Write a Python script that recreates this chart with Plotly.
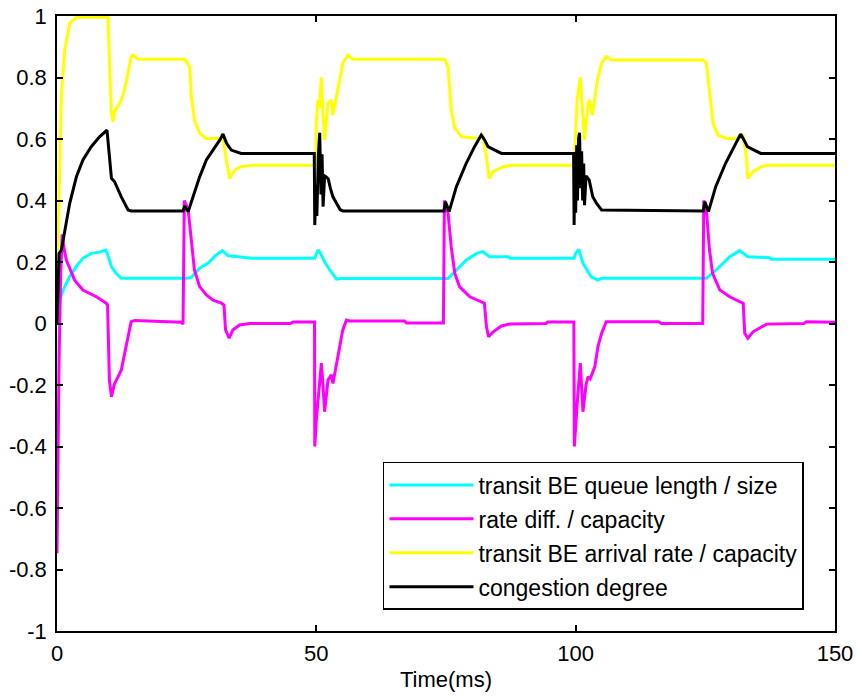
import plotly.graph_objects as go

# ---------------- data ----------------
queue_t = [0, 0.5, 1.2, 2.4, 3.7, 5.0, 6.6, 8.2, 9.4, 9.8, 10.5, 11.4, 12.4, 25.0, 25.9, 27.5, 29.1,
           30.7, 31.9, 33.0, 34.6, 37.5, 49.7,
           50.0, 50.3, 50.8, 51.6, 52.6, 53.9, 54.8, 75.4, 77.0, 78.9, 80.9, 82.1, 83.4, 87.0, 87.4, 99.7,
           100.0, 100.6, 101.4, 103.0, 104.3, 105.0, 125.2, 127.1, 129.7, 131.6, 133.2, 137.4, 137.8, 150.0]
queue_y = [0.033, 0.076, 0.109, 0.152, 0.185, 0.212, 0.228, 0.232, 0.239, 0.223, 0.185, 0.163, 0.147, 0.147,
           0.150, 0.180, 0.196, 0.223, 0.237, 0.220, 0.218, 0.212, 0.212,
           0.225, 0.239, 0.228, 0.201, 0.174, 0.144, 0.146, 0.146, 0.174, 0.206, 0.228, 0.234, 0.217, 0.217,
           0.212, 0.212,
           0.228, 0.241, 0.196, 0.152, 0.141, 0.147, 0.147, 0.174, 0.217, 0.237, 0.217, 0.214, 0.209, 0.209]

ratediff_t = [0, 0.2, 0.4, 0.7, 1.0, 1.3, 1.8, 3.4, 5.0, 7.6, 9.5, 9.75, 9.9, 10.1, 10.5, 11.1, 11.8, 12.4,
              13.05, 13.7, 14.3, 15.0, 24.0, 24.3, 24.55, 25.3, 25.9, 26.5, 27.5, 28.8, 30.1, 31.7, 32.2,
              32.5, 33.2, 33.9, 35.2, 37.2, 45.0, 45.5, 49.65,
              49.7, 50.0, 50.3, 50.97, 51.3, 51.6, 52.25, 52.9, 53.2, 53.9, 54.5, 55.1, 55.8, 56.4, 67.0,
              67.4, 74.5, 74.7, 75.4, 76.0, 76.7, 77.6, 79.6, 81.8, 82.4, 82.8, 83.2, 84.1, 85.7, 87.3,
              94.3, 94.6, 99.65,
              99.75, 100.0, 100.3, 100.9, 101.4, 102.0, 102.4, 102.8, 103.2, 103.7, 104.3, 105.0, 105.9,
              116.0, 116.5, 124.5, 124.7, 125.2, 125.8, 126.4, 127.8, 129.7, 131.6, 132.3, 132.6, 133.2,
              134.2, 136.8, 144.0, 144.5, 150.0]
ratediff_y = [-0.747, -0.41, -0.12, 0.15, 0.29, 0.25, 0.206, 0.141, 0.109, 0.087, 0.066, 0.06, -0.075,
              -0.184, -0.238, -0.195, -0.173, -0.151, -0.097, -0.043, 0.006, 0.01, 0.004, -0.002, 0.40,
              0.369, 0.26, 0.174, 0.12, 0.093, 0.076, 0.066, 0.06, -0.021, -0.048, -0.021, -0.005, 0.0,
              0.0, 0.005, 0.005,
              -0.40, -0.314, -0.26, -0.129, -0.205, -0.287, -0.184, -0.167, -0.195, -0.129, -0.07, -0.021,
              0.011, 0.008, 0.008, 0.002, 0.002, 0.40, 0.358, 0.25, 0.163, 0.12, 0.087, 0.071, 0.066,
              -0.01, -0.043, -0.027, -0.008, -0.002, 0.0, 0.005, 0.005,
              -0.40, -0.314, -0.26, -0.129, -0.287, -0.20, -0.173, -0.18, -0.16, -0.14, -0.075, -0.032,
              0.006, 0.006, 0.0, 0.0, 0.40, 0.37, 0.239, 0.163, 0.109, 0.087, 0.071, 0.066, -0.032,
              -0.048, -0.027, -0.002, 0.0, 0.006, 0.004]

arrival_t = [0, 0.52, 0.84, 1.48, 2.45, 3.74, 9.84, 10.16, 10.5, 10.8, 11.1, 12.1, 12.86, 13.7, 14.3,
             14.65, 15.6, 24.6, 25.6, 25.9, 26.5, 27.5, 28.8, 31.7, 32.0, 32.66, 33.3, 34.26, 35.5, 37.5,
             49.6,
             49.9, 50.0, 50.3, 50.6, 50.97, 51.3, 51.6, 52.25, 52.9, 53.2, 53.9, 54.5, 55.1, 56.1, 57.07,
             74.7, 75.4, 76.0, 76.7, 78.0, 81.5, 82.1, 82.8, 83.3, 84.1, 86.0, 88.0, 99.7,
             100.1, 100.3, 100.9, 101.3, 101.7, 102.4, 102.7, 103.2, 103.7, 104.3, 105.0, 105.9, 106.9,
             124.6, 125.2, 125.8, 126.5, 127.4, 129.1, 131.6, 132.3, 132.9, 133.2, 134.2, 135.8, 137.4,
             150.0]
arrival_y = [0.13, 0.51, 0.74, 0.889, 0.976, 0.996, 0.996, 0.835, 0.684, 0.656, 0.689, 0.716, 0.749,
             0.814, 0.868, 0.873, 0.859, 0.859, 0.835, 0.738, 0.662, 0.619, 0.602, 0.602, 0.607, 0.53,
             0.472, 0.499, 0.51, 0.515, 0.515,
             0.515, 0.651, 0.727, 0.70, 0.80, 0.672, 0.597, 0.716, 0.727, 0.678, 0.738, 0.792, 0.846,
             0.873, 0.859, 0.859, 0.835, 0.694, 0.635, 0.607, 0.602, 0.61, 0.542, 0.472, 0.494, 0.51,
             0.515, 0.515,
             0.64, 0.73, 0.80, 0.706, 0.597, 0.716, 0.727, 0.678, 0.738, 0.80, 0.846, 0.868, 0.857,
             0.857, 0.846, 0.749, 0.651, 0.613, 0.602, 0.602, 0.61, 0.542, 0.472, 0.494, 0.51, 0.515,
             0.515]

congestion_t = [0, 0.4, 0.85, 1.5, 2.45, 3.74, 5.0, 6.6, 8.2, 9.64, 10.16, 10.5, 11.1, 12.4, 13.7, 14.3,
                24.3, 24.6, 25.3, 26.2, 27.5, 28.8, 30.1, 31.4, 32.0, 32.7, 33.6, 34.9, 35.5, 49.6,
                49.7, 49.9, 50.1, 50.4, 50.65, 50.9, 51.1, 51.3, 51.6, 51.9, 52.3, 52.7, 53.2, 53.6, 54.1,
                54.6, 55.1, 74.6, 74.9, 75.6, 77.0, 78.9, 80.5, 81.8, 82.45, 83.1, 84.4, 85.7, 99.6,
                99.7, 99.85, 100.0, 100.2, 100.35, 100.55, 100.75, 100.95, 101.15, 101.35, 101.55, 101.7,
                102.0, 102.6, 103.3, 104.0, 105.0, 124.6, 124.9, 125.6, 127.0, 128.9, 130.5, 131.8,
                132.45, 133.1, 134.4, 135.7, 150.0]
congestion_y = [0, 0.228, 0.239, 0.304, 0.391, 0.477, 0.532, 0.575, 0.607, 0.629, 0.542, 0.472, 0.461,
                0.412, 0.369, 0.366, 0.366, 0.382, 0.364, 0.412, 0.477, 0.532, 0.564, 0.597, 0.616, 0.586,
                0.564, 0.556, 0.553, 0.553,
                0.32, 0.45, 0.35, 0.55, 0.62, 0.42, 0.55, 0.38, 0.48, 0.477, 0.47, 0.44, 0.412, 0.40,
                0.385, 0.37, 0.366, 0.366, 0.396, 0.364, 0.445, 0.521, 0.575, 0.613, 0.597, 0.575, 0.564,
                0.553, 0.553,
                0.32, 0.55, 0.36, 0.58, 0.40, 0.60, 0.62, 0.44, 0.56, 0.40, 0.52, 0.385, 0.48, 0.467,
                0.412, 0.391, 0.369, 0.366, 0.396, 0.364, 0.445, 0.521, 0.575, 0.616, 0.597, 0.575,
                0.564, 0.553, 0.553]

series_names = ["transit BE queue length / size", "rate diff. / capacity",
                "transit BE arrival rate / capacity", "congestion degree"]
series_colors = ["#00FFFF", "#FF00FF", "#FFFF00", "#000000"]

x_ticks = [0, 50, 100, 150]
y_ticks = [-1, -0.8, -0.6, -0.4, -0.2, 0, 0.2, 0.4, 0.6, 0.8, 1]
y_tick_text = ["-1", "-0.8", "-0.6", "-0.4", "-0.2", "0", "0.2", "0.4", "0.6", "0.8", "1"]

# ---------------- figure ----------------
FONT = "Arial, Liberation Sans, Helvetica, sans-serif"
fig = go.Figure()
all_t = [queue_t, ratediff_t, arrival_t, congestion_t]
all_y = [queue_y, ratediff_y, arrival_y, congestion_y]
for i, (tt, yy) in enumerate(zip(all_t, all_y)):
    fig.add_trace(go.Scatter(x=tt, y=yy, mode="lines", name=series_names[i],
                             legendgroup=f"g{i}",
                             line=dict(color=series_colors[i], width=3)))

axis_common = dict(showline=True, linecolor="black", linewidth=1.5, mirror="ticks",
                   ticks="inside", ticklen=6, tickwidth=1.5, tickcolor="black",
                   showgrid=False, zeroline=False, automargin=False,
                   tickfont=dict(family=FONT, size=22, color="black"))

fig.update_layout(
    width=858, height=700,
    margin=dict(l=57, r=23, t=16, b=69),
    paper_bgcolor="white", plot_bgcolor="white",
    font=dict(family=FONT, size=22, color="black"),
    xaxis=dict(range=[0, 150], tickvals=x_ticks, ticktext=[str(v) for v in x_ticks],
               title=dict(text="Time(ms)", font=dict(family=FONT, size=22), standoff=6),
               ticklabelstandoff=2, **axis_common),
    yaxis=dict(range=[-1, 1], tickvals=y_ticks, ticktext=y_tick_text,
               ticklabelstandoff=4, **axis_common),
    legend=dict(x=0.419, y=0.2748, xanchor="left", yanchor="top",
                bgcolor="white", bordercolor="black", borderwidth=1.5,
                font=dict(family=FONT, size=23, color="black"),
                tracegroupgap=1, itemwidth=84),
    showlegend=True,
)

fig.write_html("out.html")
